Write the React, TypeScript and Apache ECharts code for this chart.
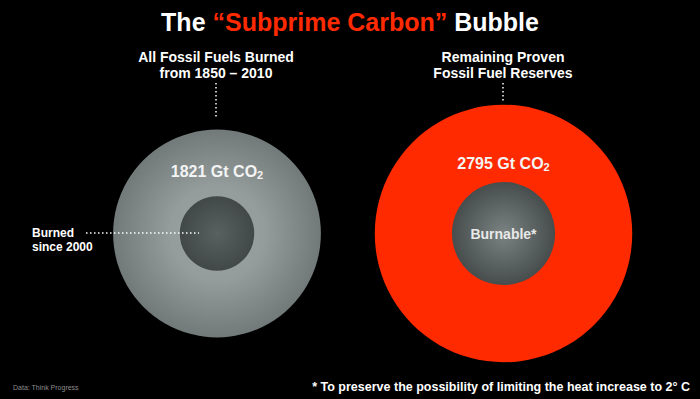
import React, { useEffect, useRef } from "react";
import * as echarts from "echarts";

// ---- data ----
const categories = ["All Fossil Fuels Burned", "Remaining Proven Reserves"];
const totalsGt = [1821, 2795]; // outer bubbles (Gt CO2)
const innerGt = [234, 449]; // inner bubbles (burned since 2000, burnable)
const totalLabels = ["1821 Gt CO", "2795 Gt CO"];
const innerLabels = ["", "Burnable*"];
const headings = ["All Fossil Fuels Burned\nfrom 1850 – 2010", "Remaining Proven\nFossil Fuel Reserves"];

const FONT = '"Liberation Sans", Arial, Helvetica, sans-serif';
const RED = "#ff2a00";

const sizeOf = (v: number) => 4.87 * Math.sqrt(v);

export default function App() {
  const ref = useRef<HTMLDivElement>(null);
  useEffect(() => {
    if (!ref.current) return;
    const chart = echarts.init(ref.current, undefined, { renderer: "svg" });
    const grayOuter = new echarts.graphic.RadialGradient(0.5, 0.5, 0.5, [
      { offset: 0, color: "#9aa2a2" },
      { offset: 0.45, color: "#949c9c" },
      { offset: 1, color: "#717979" },
    ]);
    const grayInnerL = new echarts.graphic.RadialGradient(0.5, 0.5, 0.5, [
      { offset: 0, color: "#586060" },
      { offset: 1, color: "#424848" },
    ]);
    const grayInnerR = new echarts.graphic.RadialGradient(0.5, 0.5, 0.5, [
      { offset: 0, color: "#7a8282" },
      { offset: 1, color: "#474d4d" },
    ]);
    const subRich = {
      n: { fontSize: 16, fontWeight: "bold", color: "#f4f4f4", fontFamily: FONT, lineHeight: 18 },
      s: { fontSize: 11, fontWeight: "bold", color: "#f4f4f4", fontFamily: FONT, lineHeight: 11, verticalAlign: "bottom" },
    };
    chart.setOption({
      animation: false,
      backgroundColor: "#000",
      grid: { left: 73.75, right: 53.25, top: 100, bottom: 32 },
      xAxis: { type: "category", data: categories, show: false },
      yAxis: { type: "value", min: 0, max: 1, show: false },
      series: [
        {
          type: "scatter",
          z: 2,
          symbol: "circle",
          symbolSize: (v: any) => sizeOf(v[2]),
          data: totalsGt.map((t, i) => ({
            value: [categories[i], 0.5, t],
            itemStyle: { color: i === 0 ? grayOuter : RED, opacity: 1 },
            label: {
              show: true,
              position: "inside",
              offset: [0, i === 0 ? -62 : -70],
              formatter: `{n|${totalLabels[i]}}{s|2}`,
              rich: subRich,
            },
          })),
          emphasis: { disabled: true },
        },
        {
          type: "scatter",
          z: 3,
          symbol: "circle",
          symbolSize: (v: any) => sizeOf(v[2]),
          data: innerGt.map((t, i) => ({
            value: [categories[i], 0.5, t],
            itemStyle: { color: i === 0 ? grayInnerL : grayInnerR, opacity: 1 },
            label: {
              show: innerLabels[i] !== "",
              position: "inside",
              formatter: innerLabels[i],
              fontSize: 14,
              fontWeight: "bold",
              color: "#e8e8e8",
              fontFamily: FONT,
            },
          })),
          emphasis: { disabled: true },
        },
      ],
      graphic: [
        {
          type: "text",
          left: "center",
          top: 9,
          style: {
            text: "{w|The }{r|“Subprime Carbon”}{w| Bubble}",
            rich: {
              w: { fontSize: 25, fontWeight: "bold", fill: "#fff", fontFamily: FONT },
              r: { fontSize: 25, fontWeight: "bold", fill: RED, fontFamily: FONT },
            },
          },
        },
        {
          type: "text",
          x: 216,
          y: 65,
          style: {
            text: headings[0],
            fill: "#fff",
            font: `bold 14px ${FONT}`,
            lineHeight: 16,
            align: "center",
            verticalAlign: "middle",
          },
        },
        {
          type: "text",
          x: 503,
          y: 65,
          style: {
            text: headings[1],
            fill: "#fff",
            font: `bold 14px ${FONT}`,
            lineHeight: 16,
            align: "center",
            verticalAlign: "middle",
          },
        },
        {
          type: "line",
          z: 10,
          shape: { x1: 216, y1: 83, x2: 216, y2: 118 },
          style: { stroke: "#fff", lineWidth: 1.5, lineDash: [1.5, 2.5] },
        },
        {
          type: "line",
          z: 10,
          shape: { x1: 503, y1: 83, x2: 503, y2: 101 },
          style: { stroke: "#fff", lineWidth: 1.5, lineDash: [1.5, 2.5] },
        },
        {
          type: "line",
          z: 10,
          shape: { x1: 86, y1: 233, x2: 199, y2: 233 },
          style: { stroke: "#fff", lineWidth: 1.5, lineDash: [1.5, 2.5] },
        },
        {
          type: "text",
          x: 32,
          y: 240,
          style: {
            text: "Burned\nsince 2000",
            fill: "#fff",
            font: `bold 12px ${FONT}`,
            lineHeight: 14,
            align: "left",
            verticalAlign: "middle",
          },
        },
        {
          type: "text",
          x: 13,
          y: 387,
          style: {
            text: "Data: Think Progress",
            fill: "#8c8c8c",
            font: `7px ${FONT}`,
            align: "left",
            verticalAlign: "middle",
          },
        },
        {
          type: "text",
          x: 690,
          y: 387,
          style: {
            text: "* To preserve the possibility of limiting the heat increase to 2° C",
            fill: "#fff",
            font: `bold 12.5px ${FONT}`,
            align: "right",
            verticalAlign: "middle",
          },
        },
      ],
    });
    return () => chart.dispose();
  }, []);
  return (
    <div
      ref={ref}
      style={{ position: "fixed", left: 0, top: 0, width: 700, height: 399, background: "#000" }}
    />
  );
}
